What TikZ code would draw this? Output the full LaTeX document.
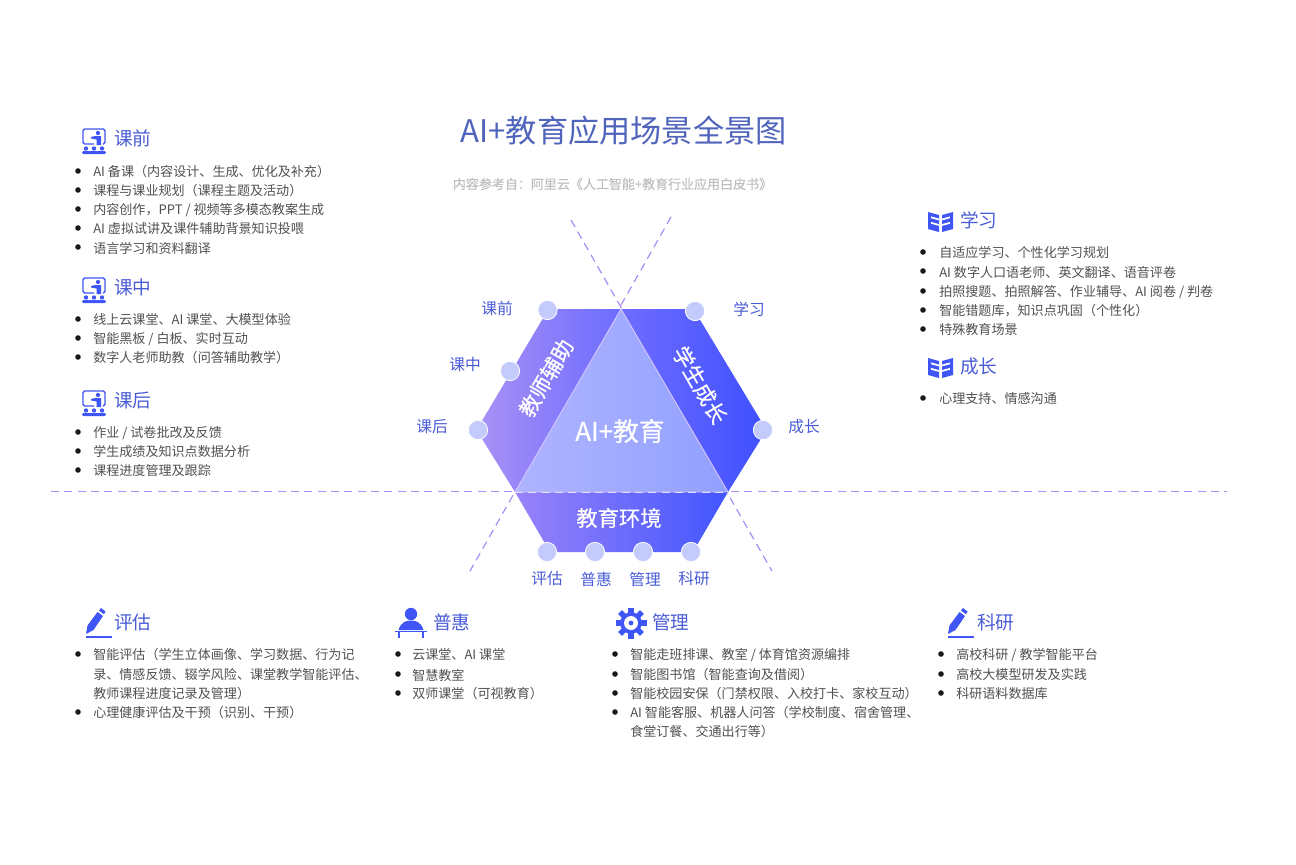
\documentclass[tikz,border=0pt]{standalone}
\usepackage{fontspec}
\setmainfont{Noto Sans CJK SC}
\newfontfamily\medfont[FakeBold=0.35]{Noto Sans CJK SC}
\usetikzlibrary{positioning}
\definecolor{iconblue}{HTML}{3F55F5}
\definecolor{headblue}{HTML}{4A5CD6}
\definecolor{titleblue}{HTML}{5064BC}
\definecolor{dashpurple}{HTML}{A98CF5}
\definecolor{dotblue}{HTML}{C3CBFC}
\definecolor{itemgray}{HTML}{505050}
\newcommand{\fs}[1]{\fontsize{#1}{#1}\selectfont}
\tikzset{
	itemtext/.style={anchor=west,inner sep=0pt,yshift=-.75pt,text=itemgray,font=\fs{9.8}},
	headtext/.style={anchor=west,inner sep=0pt,text=headblue,font=\fs{14}},
	hexlabel/.style={inner sep=0pt,text=headblue,font=\fs{11.8}},
	whitetext/.style={inner sep=0pt,text=white,font=\medfont\fs{16}},
	hexdot/.style={circle,fill=dotblue,draw=white,line width=.6pt,minimum size=14.5pt,inner sep=0pt},
	bulletdot/.style={fill=black!90},
	axisline/.style={draw=dashpurple,line width=.9pt,dash pattern=on 6pt off 4pt},
	teacher/.pic={
		\draw[iconblue,line width=1.1pt,rounded corners=1.2pt] (12,16)--(1,16)--(1,1)--(23,1)--(23,16)--(21,16);
		\fill[iconblue] (16,5) circle (2.1);
		\fill[iconblue] (13.5,8)--(19,8)--(19,17)--(14.5,17)--(14.5,11.5)--(9,10.5)--(9,9)--cycle;
		\foreach \px in {4,12,20}{\fill[iconblue] (\px,20.5) circle (2.2);}
		\fill[iconblue,rounded corners=1pt] (0,23) rectangle (24,26);
	},
	bookicon/.pic={
		\fill[iconblue] (0,0)--(11,3)--(11,20)--(0,17)--cycle;
		\fill[iconblue] (25,0)--(14,3)--(14,20)--(25,17)--cycle;
		\draw[white,line width=1.3pt] (3,5.3)--(11,7.5) (3,10.8)--(11,13) (22,5.3)--(14,7.5) (22,10.8)--(14,13);
	},
	pencilicon/.pic={
		\fill[iconblue] (0,24)--(1.5,15.5)--(11.5,2)--(17,6)--(7.5,20)--cycle;
		\fill[iconblue] (13,.5)--(15,-2)--(19.5,1.5)--(18,4.3)--cycle;
		\draw[iconblue,line width=1pt] (0,27)--(26,27);
	},
	deskicon/.pic={
		\fill[iconblue] (16,6) circle (6.2);
		\fill[iconblue] (3.5,22) .. controls (6,14) and (11,12.5) .. (16,12.5) .. controls (21,12.5) and (26,14) .. (28.5,22)--cycle;
		\draw[iconblue,line width=1.1pt] (0,23.5)--(32,23.5);
		\draw[iconblue,line width=1.3pt] (4,23.5)--(4,30) (28,23.5)--(28,30);
	},
	gearicon/.pic={
		\foreach \ang in {0,45,...,315}{\fill[iconblue,rotate=\ang] (-2.8,-15.5) rectangle (2.8,-8);}
		\fill[iconblue] (0,0) circle (10.8);
		\fill[white] (0,0) circle (7);
		\fill[iconblue] (0,0) circle (2.4);
	},
}
\begin{document}
\begin{tikzpicture}[x=.75pt,y=-.75pt,line cap=butt,line join=miter]
	\useasboundingbox (0,0) rectangle (1296,864);
	% title
	\node[inner sep=0pt,text=titleblue,font=\fs{23.4}] (title) at (623.5,131) {AI+教育应用场景全景图};
	\node[inner sep=0pt,text=black!25,font=\medfont\fs{9.75}] (source) at (612.5,184) {内容参考自：阿里云《人工智能+教育行业应用白皮书》};
	% dashed axes
	\coordinate (hl) at (51,491.5);
	\coordinate (hr) at (1227,491.5);
	\coordinate (da) at (571,220);
	\coordinate (db) at (772,571);
	\coordinate (dc) at (671,217);
	\coordinate (dd) at (470,571);
	\draw[axisline] (hl)--(hr);
	\draw[axisline] (da)--(db);
	\draw[axisline] (dc)--(dd);
	% hexagon
	\coordinate (top) at (621,309);
	\coordinate (bl) at (515,492);
	\coordinate (br) at (728,492);
	\shade[left color={rgb,255:red,170;green,145;blue,245},right color={rgb,255:red,108;green,108;blue,255}] (548.5,309)--(top)--(bl)--(476.5,430)--cycle;
	\shade[left color={rgb,255:red,112;green,108;blue,255},right color={rgb,255:red,62;green,80;blue,255}] (top)--(693.5,309)--(766.5,430)--(br)--cycle;
	\shade[left color={rgb,255:red,152;green,130;blue,248},right color={rgb,255:red,66;green,86;blue,255}] (bl)--(br)--(693,552)--(550,552)--cycle;
	\shade[left color={rgb,255:red,175;green,180;blue,255},right color={rgb,255:red,146;green,160;blue,255},draw=dashpurple!50!white,line width=.7pt] (top)--(br)--(bl)--cycle;
	\draw[white!70!dashpurple,line width=.6pt,dash pattern=on 6pt off 4pt] (bl)--(br);
	% text in the hexagon
	\node[whitetext] (teach) at (546,378) [rotate=60] {教师辅助};
	\node[whitetext] (grow) at (700,385) [rotate=-60] {学生成长};
	\node[whitetext] (env) at (619,518) {教育环境};
	\node[whitetext,font=\medfont\fs{19.4}] (core) at (620,431) {AI+教育};
	% dots and their labels
	\foreach \nm/\dx/\dy/\lx/\ly/\txt in {
		a/547.5/310/497/308/课前,b/510/371/465/365/课中,c/478/430/432/427/课后,
		d/695/311/749/309/学习,e/763/430/804/427/成长,
		f/547/552/547/579/评估,g/595/552/596/579/普惠,h/643/552/645/579/管理,i/691/552/694/579/科研}{
		\node[hexdot] (dot\nm) at (\dx,\dy) {};
		\node[hexlabel] (lab\nm) at (\lx,\ly) {\txt};
	}
	% left column
	\pic at (82,128) {teacher};
	\node[headtext] (pre) at (114,138) {课前};
	\foreach \y/\txt in {171/{AI 备课（内容设计、生成、优化及补充）},190/{课程与课业规划（课程主题及活动）},209/{内容创作，PPT / 视频等多模态教案生成},228/{AI 虚拟试讲及课件辅助背景知识投喂},247/{语言学习和资料翻译}}{
		\fill[bulletdot] (78,\y) circle (2.8);
		\node[itemtext] (pre\y) at (93,\y) {\txt};
	}
	\pic at (82,277) {teacher};
	\node[headtext] (mid) at (114,287) {课中};
	\foreach \y/\txt in {319/{线上云课堂、AI 课堂、大模型体验},338/{智能黑板 / 白板、实时互动},357/{数字人老师助教（问答辅助教学）}}{
		\fill[bulletdot] (78,\y) circle (2.8);
		\node[itemtext] (mid\y) at (93,\y) {\txt};
	}
	\pic at (82,390) {teacher};
	\node[headtext] (post) at (114,400) {课后};
	\foreach \y/\txt in {432/{作业 / 试卷批改及反馈},451/{学生成绩及知识点数据分析},470/{课程进度管理及跟踪}}{
		\fill[bulletdot] (78,\y) circle (2.8);
		\node[itemtext] (post\y) at (93,\y) {\txt};
	}
	% right column
	\pic at (928,212) {bookicon};
	\node[headtext] (learn) at (960,220) {学习};
	\foreach \y/\txt in {252/{自适应学习、个性化学习规划},271/{AI 数字人口语老师、英文翻译、语音评卷},291/{拍照搜题、拍照解答、作业辅导、AI 阅卷 / 判卷},310/{智能错题库，知识点巩固（个性化）},329/{特殊教育场景}}{
		\fill[bulletdot] (923,\y) circle (2.8);
		\node[itemtext] (learn\y) at (939,\y) {\txt};
	}
	\pic at (928,358) {bookicon};
	\node[headtext] (life) at (960,366) {成长};
	\fill[bulletdot] (923,398) circle (2.8);
	\node[itemtext] (life398) at (939,398) {心理支持、情感沟通};
	% bottom row
	\pic at (86,610) {pencilicon};
	\node[headtext] (eval) at (114,622) {评估};
	\foreach \y/\txt in {654/{智能评估（学生立体画像、学习数据、行为记},712/{心理健康评估及干预（识别、干预）}}{
		\fill[bulletdot] (78,\y) circle (2.8);
		\node[itemtext] (eval\y) at (93,\y) {\txt};
	}
	\node[itemtext] (eval673) at (93,673) {录、情感反馈、辍学风险、课堂教学智能评估、};
	\node[itemtext] (eval693) at (93,693) {教师课程进度记录及管理）};
	\pic at (395,608) {deskicon};
	\node[headtext] (pub) at (433,622) {普惠};
	\foreach \y/\txt in {654/{云课堂、AI 课堂},674/{智慧教室},693/{双师课堂（可视教育）}}{
		\fill[bulletdot] (398,\y) circle (2.8);
		\node[itemtext] (pub\y) at (412,\y) {\txt};
	}
	\pic at (631,623) {gearicon};
	\node[headtext] (man) at (652,622) {管理};
	\foreach \y/\txt in {654/{智能走班排课、教室 / 体育馆资源编排},674/{智能图书馆（智能查询及借阅）},693/{智能校园安保（门禁权限、入校打卡、家校互动）},712/{AI 智能客服、机器人问答（学校制度、宿舍管理、}}{
		\fill[bulletdot] (615,\y) circle (2.8);
		\node[itemtext] (man\y) at (630,\y) {\txt};
	}
	\node[itemtext] (man731) at (630,731) {食堂订餐、交通出行等）};
	\pic at (948,610) {pencilicon};
	\node[headtext] (res) at (977,622) {科研};
	\foreach \y/\txt in {654/{高校科研 / 教学智能平台},674/{高校大模型研发及实践},693/{科研语料数据库}}{
		\fill[bulletdot] (941,\y) circle (2.8);
		\node[itemtext] (res\y) at (956,\y) {\txt};
	}
\end{tikzpicture}
\end{document}
